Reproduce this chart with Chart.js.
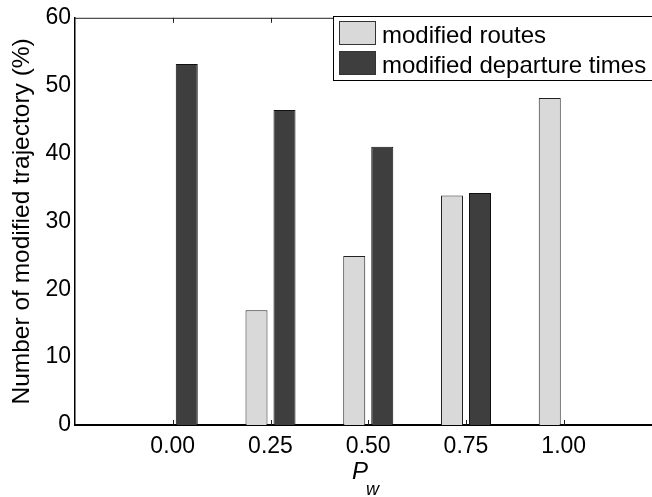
<!DOCTYPE html>
<html>
<head>
<meta charset="utf-8">
<script src="https://cdn.jsdelivr.net/npm/chart.js@4/dist/chart.umd.min.js"></script>
<style>
  html, body { margin: 0; padding: 0; background: #fff; overflow: hidden; }
  #wrap { width: 652px; height: 497px; overflow: hidden; position: relative; }
  #c { display: block; }
</style>
</head>
<body>
<div id="wrap"><canvas id="c" width="672" height="497"></canvas></div>
<script>
// data
const pwLabels = ['0.00', '0.25', '0.50', '0.75', '1.00'];
const modifiedRoutes = [0, 16.9, 24.9, 33.8, 48.2];
const modifiedDepartures = [53.2, 46.4, 41.0, 34.2, 0];
const yTicks = [0, 10, 20, 30, 40, 50, 60];

const FONT = "'Liberation Sans', Arial, Helvetica, sans-serif";
const lightGrey = 'rgb(217,217,217)';
const darkGrey = 'rgb(62,62,62)';

// empty slot on each side so the axis spans -0.25 .. 1.25
const labels = [''].concat(pwLabels, ['']);
const pad = arr => [null].concat(arr, [null]);

// matlab-ish box, inner ticks, legend and the P_w label
const extras = {
  id: 'extras',
  beforeDatasetsDraw(chart) {
    const ctx = chart.ctx;
    const a = chart.chartArea;
    const x = chart.scales.x;
    ctx.save();
    ctx.strokeStyle = '#222';
    ctx.lineWidth = 1;
    for (let i = 1; i < labels.length - 1; i++) {
      const px = Math.round(x.getPixelForTick(i)) + 0.5;
      ctx.beginPath();
      ctx.moveTo(px, a.bottom);
      ctx.lineTo(px, a.bottom - 5);
      ctx.moveTo(px, a.top);
      ctx.lineTo(px, a.top + 5);
      ctx.stroke();
    }
    ctx.restore();
  },
  afterDraw(chart) {
    const ctx = chart.ctx;
    const a = chart.chartArea;
    ctx.save();
    // top border
    ctx.strokeStyle = '#222';
    ctx.lineWidth = 1;
    ctx.beginPath();
    ctx.moveTo(a.left, a.top + 0.5);
    ctx.lineTo(a.right, a.top + 0.5);
    ctx.stroke();

    // legend
    ctx.fillStyle = '#fff';
    ctx.fillRect(333, 16, 360, 65);
    ctx.strokeStyle = '#000';
    ctx.strokeRect(333.5, 16.5, 360, 64);
    const rows = [{y: 21.5}, {y: 51.5}];
    chart.data.datasets.forEach((ds, i) => {
      ctx.fillStyle = ds.backgroundColor;
      ctx.fillRect(339.5, rows[i].y, 36, 23);
      ctx.strokeStyle = '#333';
      ctx.strokeRect(339.5, rows[i].y, 36, 23);
      ctx.fillStyle = '#000';
      ctx.font = '24px ' + FONT;
      ctx.textBaseline = 'alphabetic';
      ctx.textAlign = 'left';
      ctx.fillText(ds.label, 382, rows[i].y + 21.5);
    });

    // x title P_w
    ctx.fillStyle = '#000';
    ctx.font = 'italic 24px ' + FONT;
    ctx.fillText('P', 352, 479);
    ctx.font = 'italic 18px ' + FONT;
    ctx.fillText('w', 366, 495);
    ctx.restore();
  }
};

new Chart(document.getElementById('c'), {
  type: 'bar',
  data: {
    labels: labels,
    datasets: [
      {
        label: 'modified routes',
        data: pad(modifiedRoutes),
        backgroundColor: lightGrey,
        borderColor: '#222',
        borderWidth: 1,
        borderSkipped: 'bottom',
        categoryPercentage: 0.573,
        barPercentage: 0.786
      },
      {
        label: 'modified departure times',
        data: pad(modifiedDepartures),
        backgroundColor: darkGrey,
        borderColor: '#111',
        borderWidth: 1,
        borderSkipped: 'bottom',
        categoryPercentage: 0.573,
        barPercentage: 0.786
      }
    ]
  },
  options: {
    responsive: false,
    animation: false,
    devicePixelRatio: 1,
    layout: { padding: { top: 11, right: 10.5, left: 0, bottom: 0 } },
    plugins: {
      legend: { display: false },
      tooltip: { enabled: false }
    },
    scales: {
      x: {
        offset: false,
        grid: { display: false, drawTicks: false },
        border: { display: true, color: '#000', width: 2 },
        ticks: {
          color: '#000',
          font: { family: FONT, size: 23 },
          padding: 8,
          maxRotation: 0,
          autoSkip: false
        },
        afterFit(scale) { scale.height = 72; }
      },
      y: {
        min: 0,
        max: 60,
        afterBuildTicks(scale) { scale.ticks = yTicks.map(v => ({ value: v })); },
        grid: { display: false, drawTicks: false },
        border: { display: true, color: '#000', width: 1.5 },
        ticks: {
          color: '#000',
          font: { family: FONT, size: 23 },
          padding: 4
        },
        title: {
          display: true,
          text: 'Number of modified trajectory (%)',
          color: '#000',
          font: { family: FONT, size: 24.5, lineHeight: 1.2 },
          padding: { top: 8, bottom: 0 }
        },
        afterFit(scale) { scale.width = 75; }
      }
    }
  },
  plugins: [extras]
});
</script>
</body>
</html>
